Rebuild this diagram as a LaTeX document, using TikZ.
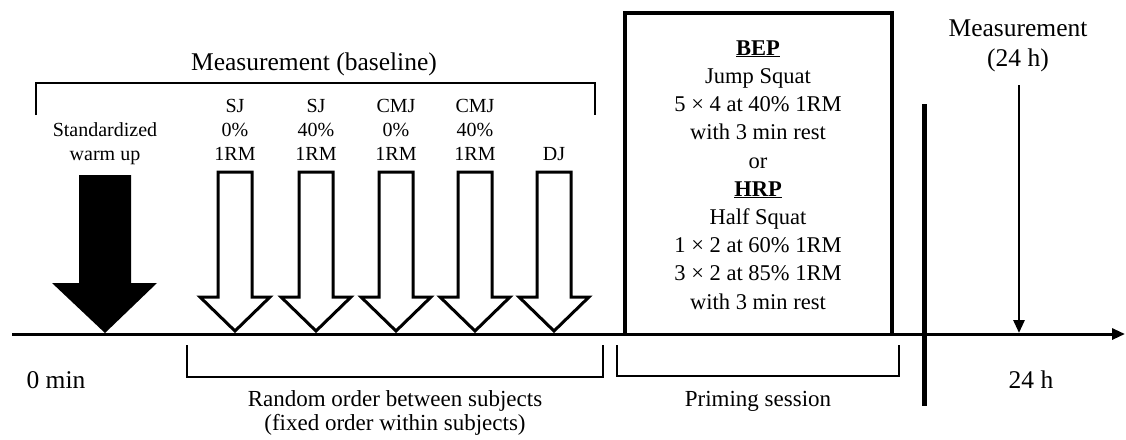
\documentclass[tikz,border=0pt]{standalone}
\usepackage{fontspec}
\setmainfont{Liberation Serif}
\usetikzlibrary{arrows.meta}

% multi-line nodes are placed by the baseline of their last line
\tikzset{
  bigtxt/.style={font=\fontsize{25.5}{30}\selectfont, align=center, inner sep=0pt, anchor=base},
  labtxt/.style={font=\fontsize{20}{24}\selectfont, align=center, inner sep=0pt, anchor=base},
  boxtxt/.style={font=\fontsize{22.5}{28.2}\selectfont, align=center, inner sep=0pt, anchor=base},
  bottxt/.style={font=\fontsize{23}{24}\selectfont, align=center, inner sep=0pt, anchor=base},
  brk/.style={line width=1.6pt},
  hollow/.pic={
    \draw[line width=3pt, fill=white, line join=miter]
      (-17,-159) -- (17,-159) -- (17,-34) -- (35,-34) -- (0,0)
      -- (-35,-34) -- (-17,-34) -- cycle;
  }
}

\begin{document}
\begin{tikzpicture}[x=1pt,y=-1pt]
\useasboundingbox (0,0) rectangle (1126,439);

% time axis
\coordinate (axL) at (12,334);
\coordinate (axR) at (1125,334);
\draw[line width=3pt, -{Triangle[length=13pt,width=11pt]}] (axL) -- (axR);

% baseline measurement bracket
\node[bigtxt] (mbase) at (314,70) {Measurement (baseline)};
\draw[brk] (36,115) -- (36,83) -- (595,83) -- (595,115);

% warm up
\node[labtxt] (warm) at (105,160) {Standardized\\warm up};
\fill (105,333) -- (157,283) -- (131,283) -- (131,175) -- (79,175)
      -- (79,283) -- (52,283) -- cycle;

% jump tests
\node[labtxt] (sj0)  at (235,160) {SJ\\0\%\\1RM};
\node[labtxt] (sj40) at (316,160) {SJ\\40\%\\1RM};
\node[labtxt] (cm0)  at (396,160) {CMJ\\0\%\\1RM};
\node[labtxt] (cm40) at (475,160) {CMJ\\40\%\\1RM};
\node[labtxt] (dj)   at (554,160) {DJ};
\foreach \xx in {235,316,396,475,554}
  \pic at (\xx,331) {hollow};

% priming box
\draw[line width=3.5pt] (625,334) -- (625,13) -- (892,13) -- (892,334);
\node[boxtxt] (prime) at (758,309)
  {\textbf{\underline{BEP}}\\Jump Squat\\5 × 4 at 40\% 1RM\\with 3 min rest\\or\\
   \textbf{\underline{HRP}}\\Half Squat\\1 × 2 at 60\% 1RM\\3 × 2 at 85\% 1RM\\with 3 min rest};

% separator
\draw[line width=5pt] (924,104) -- (924,406);

% 24 h measurement
\node[bigtxt] (m24) at (1018,66) {Measurement\\(24 h)};
\coordinate (m24top) at (1019,85);
\coordinate (m24tip) at (1019,333);
\draw[line width=2.8pt, -{Triangle[length=13pt,width=11pt]}] (m24top) -- (m24tip);

% lower labels
\node[bigtxt] (t0) at (56,388) {0 min};
\node[bigtxt] (t24) at (1031,388) {24 h};
\draw[brk] (187,345) -- (187,377) -- (603,377) -- (603,345);
\node[bottxt] (rand) at (395,430) {Random order between subjects\\(fixed order within subjects)};
\draw[brk] (617,345) -- (617,376) -- (899,376) -- (899,345);
\node[bottxt] (prim) at (758,406) {Priming session};
\end{tikzpicture}
\end{document}
